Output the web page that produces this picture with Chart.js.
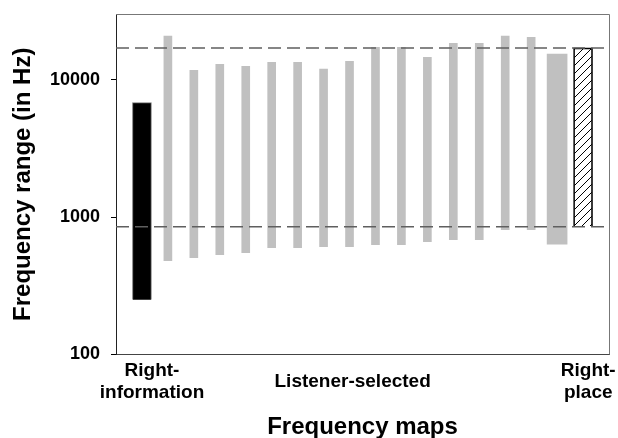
<!DOCTYPE html>
<html>
<head>
<meta charset="utf-8">
<script src="https://cdn.jsdelivr.net/npm/chart.js@4"></script>
<style>
  body { margin: 0; background: #fff; }
  #wrap { width: 618px; height: 438px; }
</style>
</head>
<body>
<div id="wrap"><canvas id="freqChart"></canvas></div>
<script>
// frequency ranges in Hz, [low, high]
const rightInfoRange = [250, 6800];
const listenerLow = [482, 506, 532, 550, 598, 598, 608, 608, 629, 629, 662, 684, 684, 809, 809];
const listenerHigh = [20700, 11700, 12900, 12500, 13350, 13350, 11900, 13600, 17150, 17150, 14500, 18350, 18350, 20700, 20300];
const listenerSpan = [634, 15300];
const rightPlaceRange = [860, 17000];
const refLines = [850, 17000];
const yTicks = [100, 1000, 10000];
const groupLabels = [['Right-', 'information'], 'Listener-selected', ['Right-', 'place']];

const FONT = 'Liberation Sans, Arial, sans-serif';

// diagonal hatch for the right-place bar
function hatch() {
  const c = document.createElement('canvas');
  c.width = 8; c.height = 8;
  const g = c.getContext('2d');
  g.strokeStyle = '#000';
  g.lineWidth = 1;
  g.beginPath();
  g.moveTo(0, 8); g.lineTo(8, 0);
  g.moveTo(-1, 1); g.lineTo(1, -1);
  g.moveTo(7, 9); g.lineTo(9, 7);
  g.stroke();
  return g.createPattern(c, 'repeat');
}

const frame = {
  id: 'frame',
  afterDatasetsDraw(chart) {
    const { ctx, chartArea: a } = chart;
    ctx.save();
    ctx.strokeStyle = '#777';
    ctx.lineWidth = 1;
    ctx.beginPath();
    ctx.moveTo(a.left, Math.round(a.top) + 0.5);
    ctx.lineTo(Math.round(a.right) + 0.5, Math.round(a.top) + 0.5);
    ctx.lineTo(Math.round(a.right) + 0.5, a.bottom);
    ctx.stroke();
    ctx.restore();
  }
};

const refData = refLines.map(v => [{ x: 0, y: v }, { x: 19, y: v }]);

const ctx = document.getElementById('freqChart').getContext('2d');
const freqChart = new Chart(ctx, {
  type: 'bar',
  data: {
    datasets: [
      {
        data: [{ x: 1, y: rightInfoRange }],
        backgroundColor: '#000',
        borderColor: '#777',
        borderWidth: 1,
        barThickness: 19,
        grouped: false,
        order: 2
      },
      {
        data: listenerLow.map((lo, i) => ({ x: i + 2, y: [lo, listenerHigh[i]] })),
        backgroundColor: '#c0c0c0',
        borderWidth: 0,
        barThickness: 8,
        grouped: false,
        order: 2
      },
      {
        data: [{ x: 17, y: listenerSpan }],
        backgroundColor: '#c0c0c0',
        borderWidth: 0,
        barThickness: 20,
        grouped: false,
        order: 2
      },
      {
        data: [{ x: 18, y: rightPlaceRange }],
        backgroundColor: hatch(),
        borderColor: '#000',
        borderWidth: 1,
        barThickness: 19,
        grouped: false,
        order: 2
      },
      ...refData.map(d => ({
        type: 'line',
        data: d,
        borderColor: '#5f5f5f',
        borderWidth: 1.5,
        borderDash: [13, 6],
        pointRadius: 0,
        order: 0
      }))
    ]
  },
  options: {
    responsive: true,
    maintainAspectRatio: false,
    animation: false,
    layout: { padding: { top: 14, right: 9, left: 0, bottom: 0 } },
    plugins: {
      legend: { display: false },
      tooltip: { enabled: false }
    },
    scales: {
      x: {
        type: 'linear',
        min: 0,
        max: 19,
        offset: false,
        grid: { display: false },
        border: { display: true, color: '#444', width: 1 },
        afterBuildTicks: s => { s.ticks = [1.387, 9.12, 18.2].map(v => ({ value: v })); },
        afterFit: s => { s.height = 83.5; s.paddingLeft = 0; s.paddingRight = 0; },
        ticks: {
          autoSkip: false,
          maxRotation: 0,
          minRotation: 0,
          crossAlign: 'center',
          padding: 8,
          color: '#000',
          font: { family: FONT, size: 19, weight: 'bold', lineHeight: 1.15 },
          callback: (v, i) => groupLabels[i]
        },
        title: {
          display: true,
          text: 'Frequency maps',
          color: '#000',
          padding: { top: 0, bottom: 0 },
          font: { family: FONT, size: 24, weight: 'bold', lineHeight: 0.9 }
        }
      },
      y: {
        type: 'logarithmic',
        min: 100,
        max: 30000,
        grid: { drawOnChartArea: false, drawTicks: true, tickLength: 5, color: '#000' },
        border: { display: true, color: '#222', width: 1 },
        afterBuildTicks: s => { s.ticks = yTicks.map(v => ({ value: v })); },
        afterFit: s => { s.width = 116; s.paddingTop = 0; s.paddingBottom = 0; },
        ticks: {
          padding: 11,
          color: '#000',
          font: { family: FONT, size: 18, weight: 'bold' },
          callback: v => String(v)
        },
        title: {
          display: true,
          text: 'Frequency range (in Hz)',
          color: '#000',
          padding: { top: 11, bottom: 0 },
          font: { family: FONT, size: 24, weight: 'bold', lineHeight: 1 }
        }
      }
    }
  },
  plugins: [frame]
});
</script>
</body>
</html>
